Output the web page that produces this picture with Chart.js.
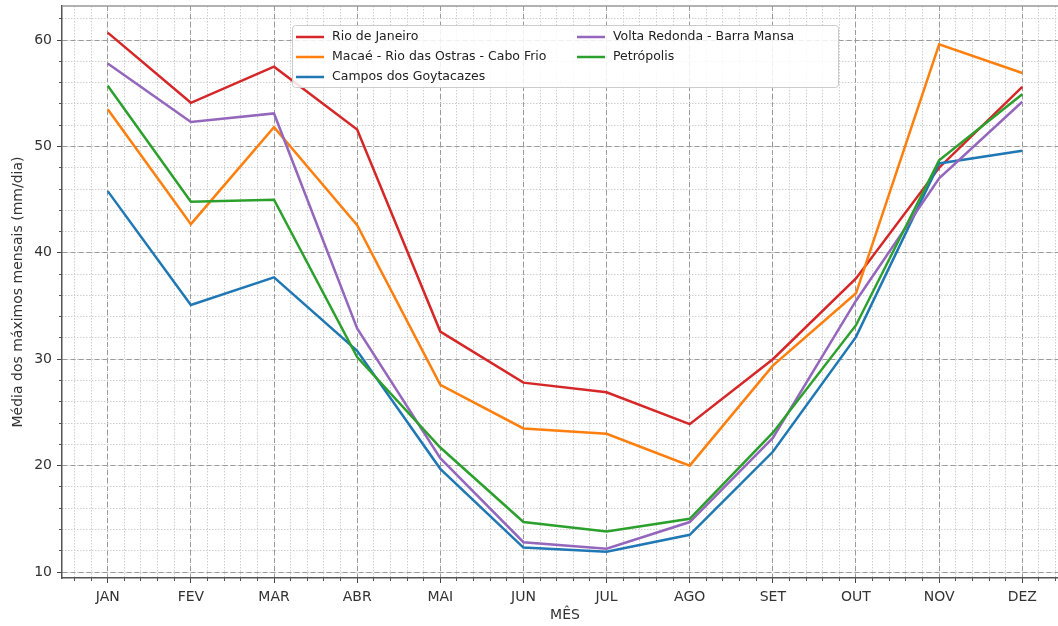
<!DOCTYPE html>
<html>
<head>
<meta charset="utf-8">
<script src="https://cdn.jsdelivr.net/npm/chart.js@4"></script>
<style>
  html, body { margin: 0; padding: 0; background: #fff; overflow: hidden; }
  #wrap { width: 1080px; height: 626px; }
</style>
</head>
<body>
<div id="wrap"><canvas id="grafico"></canvas></div>
<script>
const meses = ['JAN', 'FEV', 'MAR', 'ABR', 'MAI', 'JUN', 'JUL', 'AGO', 'SET', 'OUT', 'NOV', 'DEZ']

const rioDeJaneiro = [60.7, 54.1, 57.5, 51.6, 32.6, 27.8, 26.9, 23.9, 30.0, 37.6, 48.0, 55.6]
const macae = [53.5, 42.7, 51.8, 42.6, 27.6, 23.5, 23.0, 20.0, 29.4, 36.2, 59.6, 56.9]
const campos = [45.8, 35.1, 37.7, 30.8, 19.7, 12.3, 11.9, 13.5, 21.3, 32.1, 48.4, 49.6]
const voltaRedonda = [57.8, 52.3, 53.1, 32.9, 20.7, 12.8, 12.2, 14.7, 22.6, 35.5, 47.0, 54.2]
const petropolis = [55.7, 44.8, 45.0, 30.2, 21.7, 14.7, 13.8, 15.0, 23.1, 33.2, 48.7, 54.9]

const nomes = ['Rio de Janeiro', 'Macaé - Rio das Ostras - Cabo Frio', 'Campos dos Goytacazes', 'Volta Redonda - Barra Mansa', 'Petrópolis']
const cores = ['#d62728', '#ff7f0e', '#1f77b4', '#9467bd', '#2ca02c']
const series = [rioDeJaneiro, macae, campos, voltaRedonda, petropolis]

Chart.defaults.font.family = "'DejaVu Sans', sans-serif"
Chart.defaults.color = '#333'

const datasets = series.map((vals, i) => ({
    label: nomes[i],
    data: vals.map((v, j) => ({ x: j, y: v })),
    borderColor: cores[i],
    backgroundColor: cores[i],
    borderWidth: 2.5,
    pointRadius: 0,
    tension: 0,
    fill: false,
    order: series.length - i
}))

// borda de cima do eixo + legenda em duas colunas, como no matplotlib
const legenda = {
    id: 'legenda',
    afterDraw(chart) {
        const c = chart.ctx
        const a = chart.chartArea
        c.save()
        c.strokeStyle = '#999'
        c.lineWidth = 1.5
        c.beginPath()
        c.moveTo(a.left, a.top)
        c.lineTo(a.right, a.top)
        c.stroke()

        c.fillStyle = 'rgba(255,255,255,0.85)'
        c.strokeStyle = '#cccccc'
        c.lineWidth = 1
        c.beginPath()
        c.roundRect(292.5, 25.5, 546, 62, 3)
        c.fill()
        c.stroke()
        c.font = "12.5px 'DejaVu Sans'"
        c.textBaseline = 'middle'
        chart.data.datasets.forEach((ds, i) => {
            const col = i < 3 ? 0 : 1
            const row = i < 3 ? i : i - 3
            const x0 = col === 0 ? 296 : 577
            const y = 37 + row * 20
            c.strokeStyle = ds.borderColor
            c.lineWidth = 2.5
            c.beginPath()
            c.moveTo(x0, y)
            c.lineTo(x0 + 28, y)
            c.stroke()
            c.fillStyle = '#222'
            c.fillText(ds.label, x0 + 36, y)
        })
        c.restore()
    }
}

const config = {
    type: 'line',
    data: { datasets },
    options: {
        responsive: true,
        maintainAspectRatio: false,
        animation: false,
        layout: { padding: { top: 6, right: 12, left: 0, bottom: 0 } },
        plugins: { legend: { display: false }, tooltip: { enabled: false } },
        scales: {
            xMenor: {
                type: 'linear', position: 'bottom', min: -0.55, max: 11.55, weight: -1,
                ticks: { display: false, stepSize: 0.2, includeBounds: false },
                grid: { color: '#cfcfcf', lineWidth: 1, drawTicks: true, tickLength: 3, tickColor: '#555', tickBorderDash: [] },
                border: { display: false, dash: [1.5, 1.5] },
                afterFit: s => { s.height = 0 }
            },
            x: {
                type: 'linear', position: 'bottom', min: -0.55, max: 11.55,
                ticks: {
                    stepSize: 1, includeBounds: false, autoSkip: false, maxRotation: 0,
                    padding: 6, font: { size: 14 }, color: '#333',
                    callback: v => meses[v]
                },
                grid: { color: '#9a9a9a', lineWidth: 1, tickLength: 5, tickColor: '#444', tickBorderDash: [] },
                border: { display: true, color: '#555', width: 1.5, dash: [5, 3] },
                title: { display: true, text: 'MÊS', font: { size: 14 }, color: '#333', padding: { top: 0, bottom: 2 } },
                afterFit: s => { s.height = 48 }
            },
            yMenor: {
                type: 'linear', position: 'left', min: 9.44, max: 63.2, weight: -1,
                ticks: { display: false, stepSize: 2, includeBounds: false },
                grid: { color: '#cfcfcf', lineWidth: 1, drawTicks: true, tickLength: 3, tickColor: '#555', tickBorderDash: [] },
                border: { display: false, dash: [1.5, 1.5] },
                afterFit: s => { s.width = 0; s.paddingTop = 0; s.paddingBottom = 0 }
            },
            y: {
                type: 'linear', position: 'left', min: 9.44, max: 63.2,
                ticks: { stepSize: 10, includeBounds: false, padding: 5, font: { size: 14 }, color: '#333' },
                grid: { color: '#9a9a9a', lineWidth: 1, tickLength: 5, tickColor: '#444', tickBorderDash: [] },
                border: { display: true, color: '#555', width: 1.5, dash: [5, 3] },
                title: { display: true, text: 'Média dos máximos mensais (mm/dia)', font: { size: 14 }, color: '#333', padding: { top: 10, bottom: 0 } },
                afterFit: s => { s.width = 62; s.paddingTop = 0; s.paddingBottom = 0 }
            }
        }
    },
    plugins: [legenda]
}

const grafico = new Chart(document.getElementById('grafico'), config)
</script>
</body>
</html>
